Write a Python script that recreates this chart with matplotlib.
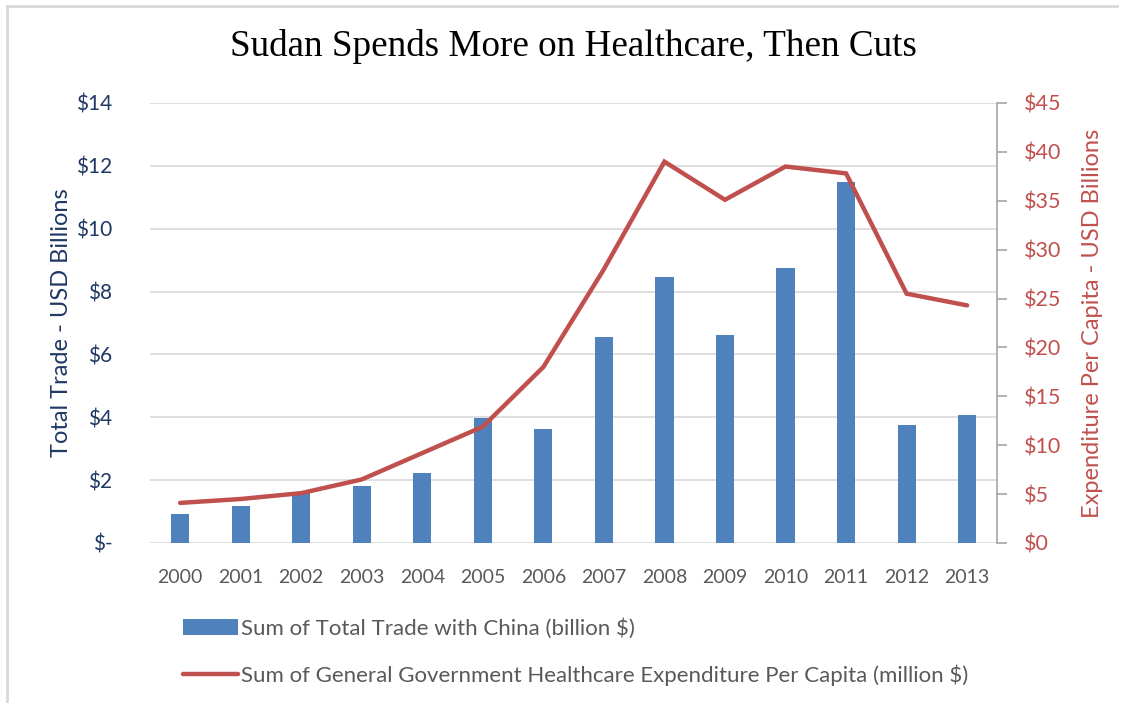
import matplotlib
matplotlib.use("Agg")
import matplotlib.pyplot as plt
import numpy as np
from matplotlib.lines import Line2D
from matplotlib.ticker import FixedLocator, FixedFormatter

years = ["2000", "2001", "2002", "2003", "2004", "2005", "2006",
         "2007", "2008", "2009", "2010", "2011", "2012", "2013"]
trade = [0.92, 1.18, 1.60, 1.81, 2.23, 3.99, 3.62,
         6.55, 8.47, 6.61, 8.76, 11.50, 3.74, 4.07]
health = [4.1, 4.5, 5.1, 6.5, 9.2, 11.9, 18.0,
          28.0, 39.0, 35.1, 38.5, 37.8, 25.5, 24.3]
left_ticks = [0, 2, 4, 6, 8, 10, 12, 14]
left_labels = ["$-", "$2", "$4", "$6", "$8", "$10", "$12", "$14"]
right_ticks = [0, 5, 10, 15, 20, 25, 30, 35, 40, 45]
right_labels = ["$0", "$5", "$10", "$15", "$20", "$25", "$30", "$35", "$40", "$45"]

title = "Sudan Spends More on Healthcare, Then Cuts"
bar_label = "Sum of Total Trade with China (billion $)"
line_label = "Sum of General Government Healthcare Expenditure Per Capita (million $)"

BLUE = "#4F81BD"
RED = "#C0504D"
NAVY = "#1F3864"
GRAY = "#595959"

plt.rcParams['font.family'] = ['Lato', 'DejaVu Sans']

fig = plt.figure(figsize=(11.27, 7.03), dpi=100)
ax = fig.add_axes([0.133, 0.2276, 0.752, 0.6259])
ax2 = ax.twinx()

x = np.arange(len(years))
bars = ax.bar(x, trade, width=0.3, color=BLUE, zorder=3, label=bar_label)
ln, = ax2.plot(x, health, color=RED, linewidth=3.2, solid_capstyle='round',
               solid_joinstyle='miter', zorder=4, label=line_label)

ax.set_xlim(-0.5, len(years) - 0.5)
ax.set_ylim(0, 14)
ax2.set_ylim(0, 45)

ax.yaxis.set_major_locator(FixedLocator(left_ticks))
ax.yaxis.set_major_formatter(FixedFormatter(left_labels))
ax2.yaxis.set_major_locator(FixedLocator(right_ticks))
ax2.yaxis.set_major_formatter(FixedFormatter(right_labels))
ax.set_xticks(x)
ax.set_xticklabels(years)

ax.grid(axis='y', color='#D9D9D9', linewidth=1.2, zorder=0)
ax.set_axisbelow(True)

for a in (ax, ax2):
    for s in ('top', 'left', 'bottom'):
        a.spines[s].set_visible(False)
ax.spines['right'].set_visible(False)
ax2.spines['right'].set_color('#A6A6A6')
ax2.spines['right'].set_linewidth(1.2)

ax.tick_params(axis='y', length=0, labelsize=15, labelcolor=NAVY, pad=27)
ax.tick_params(axis='x', length=0, labelsize=14, labelcolor=GRAY, pad=19)
ax2.tick_params(axis='y', length=7, width=1.2, color='#A6A6A6',
                labelsize=15.5, labelcolor=RED, pad=12)

ax.set_ylabel("Total Trade - USD Billions", color=NAVY, fontsize=17, labelpad=3)
ax2.set_ylabel("Expenditure Per Capita - USD Billions", color=RED, fontsize=17,
               labelpad=15)

fig.text(0.5085, 0.934, title, ha='center', va='center', fontsize=26.7,
         family=['Liberation Serif', 'DejaVu Serif'], color='black')

fig.legend(handles=[bars, ln], labels=[bar_label, line_label],
           loc='upper left', bbox_to_anchor=(0.162, 0.121), frameon=False,
           fontsize=16, labelcolor=GRAY, handlelength=2.5, handletextpad=0.12,
           labelspacing=1.15, borderaxespad=0, borderpad=0)

fig.add_artist(Line2D([0.006, 0.006], [0.0, 0.992], transform=fig.transFigure,
                      color='#D9D9D9', linewidth=2))
fig.add_artist(Line2D([0.006, 0.991], [0.992, 0.992], transform=fig.transFigure,
                      color='#D9D9D9', linewidth=2))

fig.savefig("out.png", dpi=100, facecolor='white')
